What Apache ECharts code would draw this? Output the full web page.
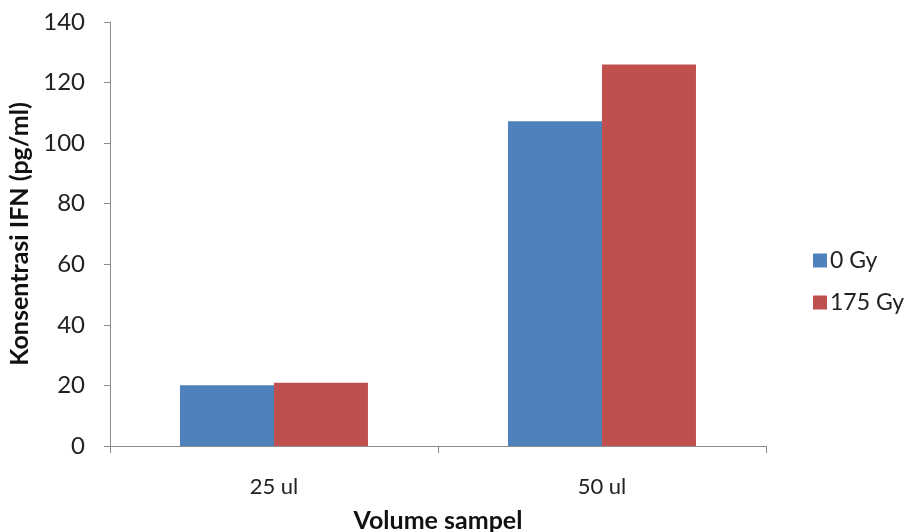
<!DOCTYPE html>
<html><head><meta charset="utf-8">
<script src="https://cdn.jsdelivr.net/npm/echarts@6/dist/echarts.min.js"></script>
<style>html,body{margin:0;padding:0;background:#fff}#c{width:908px;height:532px}</style>
</head><body><div id="c"></div>
<script>
const categories = ['25 ul', '50 ul'];
const series0Gy = [20.1, 107.2];
const series175Gy = [20.9, 126.0];
const seriesNames = ['0 Gy', '175 Gy'];
const yTicks = { min: 0, max: 140, interval: 20 };

const font = 'Lato, "Open Sans", sans-serif';
const chart = echarts.init(document.getElementById('c'), null, { renderer: 'canvas' });
chart.setOption({
  animation: false,
  backgroundColor: '#fff',
  grid: { left: 110, right: 142, top: 22, bottom: 86, containLabel: false, outerBoundsMode: 'none' },
  legend: {
    orient: 'vertical', left: 808, top: 244, itemGap: 19,
    itemWidth: 14, itemHeight: 14, icon: 'rect', itemStyle: { borderWidth: 0 },
    textStyle: { fontFamily: font, fontSize: 23, color: '#222', padding: [0, 0, 0, -2] },
    data: seriesNames
  },
  xAxis: {
    type: 'category', data: categories,
    name: 'Volume sampel', nameLocation: 'middle', nameGap: 62,
    nameTextStyle: { fontFamily: font, fontSize: 25, fontWeight: 'bold', color: '#111' },
    axisLine: { lineStyle: { color: '#8c8c8c', width: 1 } },
    axisTick: { show: true, length: 7, lineStyle: { color: '#8c8c8c' } },
    axisLabel: { fontFamily: font, fontSize: 22, color: '#222', margin: 30 },
    splitLine: { show: false }
  },
  yAxis: {
    type: 'value', min: yTicks.min, max: yTicks.max, interval: yTicks.interval,
    name: 'Konsentrasi IFN (pg/ml)', nameLocation: 'middle', nameGap: 71, nameRotate: 90,
    nameTextStyle: { fontFamily: font, fontSize: 25, fontWeight: 'bold', color: '#111' },
    axisLine: { show: true, lineStyle: { color: '#8c8c8c', width: 1 } },
    axisTick: { show: true, length: 6, lineStyle: { color: '#8c8c8c' } },
    axisLabel: { fontFamily: font, fontSize: 24, color: '#222', margin: 25 },
    splitLine: { show: false }
  },
  series: [
    { name: seriesNames[0], type: 'bar', data: series0Gy, barGap: '0%', barCategoryGap: '42.7%',
      itemStyle: { color: '#4f81bd' } },
    { name: seriesNames[1], type: 'bar', data: series175Gy, barGap: '0%', barCategoryGap: '42.7%',
      itemStyle: { color: '#c0504d' } }
  ]
});
</script></body></html>
